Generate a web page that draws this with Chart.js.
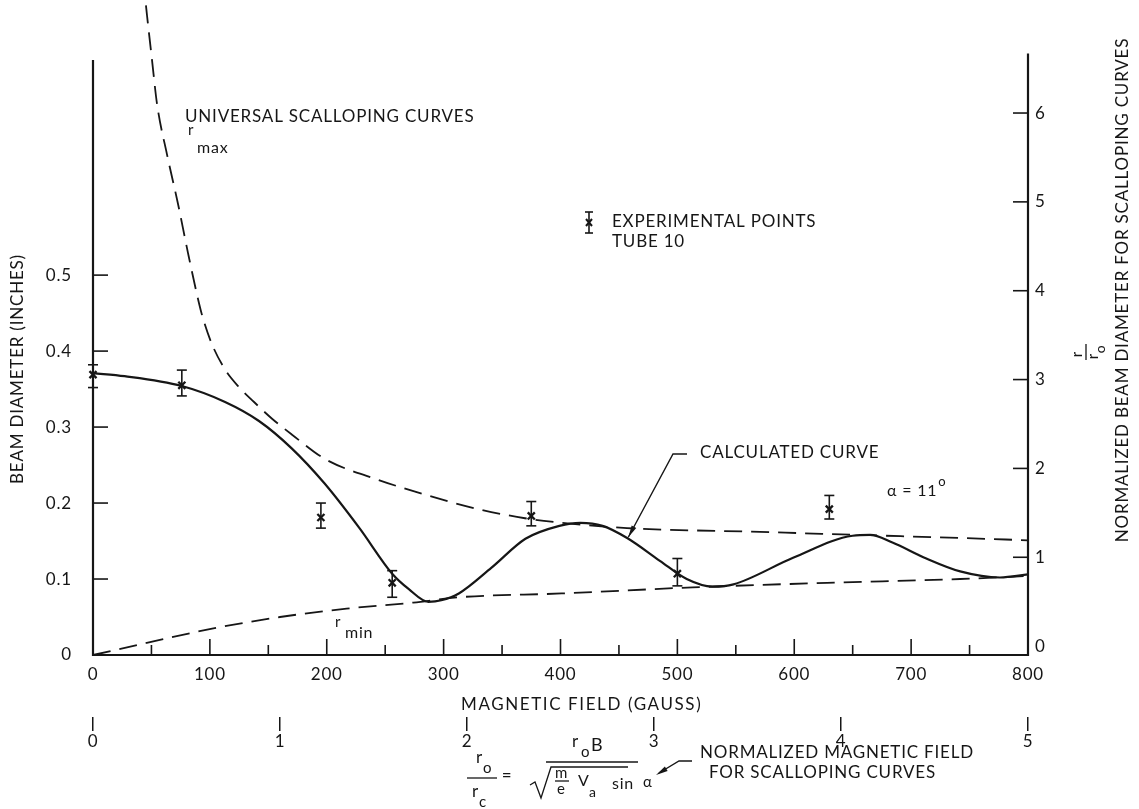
<!DOCTYPE html>
<html>
<head>
<meta charset="utf-8">
<title>Beam diameter vs magnetic field</title>
<script src="https://cdn.jsdelivr.net/npm/chart.js@4.4.1/dist/chart.umd.min.js"></script>
<style>
  html, body { margin: 0; padding: 0; background: #ffffff; }
  #wrap { width: 1139px; height: 809px; }
</style>
</head>
<body>
<div id="wrap"><canvas id="chart" width="1139" height="809"></canvas></div>
<script>
// Calculated beam diameter (inches) against magnetic field (gauss)
const calcField = [0, 27, 76, 113, 142, 170, 198, 228, 256, 270, 287, 298, 313, 341, 370, 399, 417, 436, 457, 485, 508, 530, 548, 599, 650, 665, 684, 713, 742, 776, 800];
const calcDiameter = [0.371, 0.367, 0.354, 0.333, 0.308, 0.272, 0.226, 0.167, 0.107, 0.087, 0.070, 0.072, 0.081, 0.115, 0.153, 0.170, 0.174, 0.170, 0.154, 0.124, 0.100, 0.090, 0.093, 0.128, 0.157, 0.158, 0.148, 0.127, 0.110, 0.102, 0.106];

// Universal scalloping envelope: maximum radius
const rMaxField = [45.3, 46.2, 50.5, 54.8, 63.3, 72.7, 81.3, 90.7, 94.1, 101.8, 112.9, 124.1, 137.8, 153.2, 170.3, 198.5, 241.3, 284.1, 326.8, 369.6, 401.3, 456.9, 570.7, 656.3, 741.8, 800];
const rMaxDiameter = [0.855, 0.842, 0.783, 0.725, 0.659, 0.594, 0.529, 0.463, 0.443, 0.409, 0.376, 0.354, 0.333, 0.311, 0.290, 0.258, 0.232, 0.211, 0.193, 0.180, 0.174, 0.167, 0.162, 0.158, 0.154, 0.151];

// Universal scalloping envelope: minimum radius
const rMinField = [0, 46, 103, 160, 217, 274, 313, 401, 513, 628, 742, 800];
const rMinDiameter = [0, 0.016, 0.035, 0.050, 0.061, 0.069, 0.076, 0.081, 0.089, 0.095, 0.100, 0.104];

// Experimental points, tube 10, with error bar limits
const expField = [0, 76, 195, 256, 375, 500, 630];
const expDiameter = [0.369, 0.355, 0.181, 0.095, 0.183, 0.107, 0.192];
const expLow = [0.352, 0.341, 0.167, 0.076, 0.170, 0.091, 0.179];
const expHigh = [0.382, 0.375, 0.200, 0.111, 0.202, 0.127, 0.210];

// Tick values
const diameterTicks = [0, 0.1, 0.2, 0.3, 0.4, 0.5];
const normDiameterTicks = [0, 1, 2, 3, 4, 5, 6];
const fieldTicks = [0, 50, 100, 150, 200, 250, 300, 350, 400, 450, 500, 550, 600, 650, 700, 750, 800];
const normFieldTicks = [0, 1, 2, 3, 4, 5];

const INK = '#161616';
const FAMILY = 'Lato, "DejaVu Sans", sans-serif';
const SPACING = '0.8px';
const fnt = (size) => `400 ${size}px ${FAMILY}`;

// Axis extents and value ranges
const FIELD_MAX = 800, NORM_FIELD_MAX = 5;
const DIAM_MAX = 0.8525, LEFT_AXIS_TOP = 0.783;
const NORM_MIN = -0.1, NORM_MAX = 7.19, RIGHT_AXIS_TOP = 6.67;

const toXY = (xs, ys) => xs.map((x, i) => ({ x, y: ys[i] }));

function seg(ctx, x1, y1, x2, y2) {
  ctx.beginPath(); ctx.moveTo(x1, y1); ctx.lineTo(x2, y2); ctx.stroke();
}

function text(ctx, str, x, y, size, align) {
  ctx.font = fnt(size);
  ctx.textAlign = align || 'left';
  ctx.textBaseline = 'middle';
  ctx.fillText(str, x, y);
  return x + ctx.measureText(str).width;
}

function arrowHead(ctx, fx, fy, tx, ty) {
  const ang = Math.atan2(ty - fy, tx - fx);
  const len = 12, half = 2.6;
  ctx.beginPath();
  ctx.moveTo(tx, ty);
  ctx.lineTo(tx - len * Math.cos(ang) + half * Math.sin(ang), ty - len * Math.sin(ang) - half * Math.cos(ang));
  ctx.lineTo(tx - len * Math.cos(ang) - half * Math.sin(ang), ty - len * Math.sin(ang) + half * Math.cos(ang));
  ctx.closePath();
  ctx.fill();
}

// Frame lines and inward tick marks
const frame = {
  id: 'frame',
  beforeDatasetsDraw(chart) {
    const { ctx, chartArea: a, scales: { x, y, y2 } } = chart;
    const yb = y.getPixelForValue(0);
    ctx.save();
    ctx.strokeStyle = INK;
    ctx.lineWidth = 2.2;
    ctx.beginPath();
    ctx.moveTo(a.left, y.getPixelForValue(LEFT_AXIS_TOP));
    ctx.lineTo(a.left, yb);
    ctx.lineTo(a.right, yb);
    ctx.lineTo(a.right, y2.getPixelForValue(RIGHT_AXIS_TOP));
    ctx.stroke();
    ctx.lineWidth = 1.6;
    y.ticks.forEach(t => {
      if (t.value === 0) return;
      const py = y.getPixelForValue(t.value);
      seg(ctx, a.left, py, a.left + 15, py);
    });
    y2.ticks.forEach(t => {
      if (t.value === 0) return;
      const py = y2.getPixelForValue(t.value);
      seg(ctx, a.right - 15, py, a.right, py);
    });
    x.ticks.forEach(t => {
      if (t.value === 0 || t.value === FIELD_MAX) return;
      const px = x.getPixelForValue(t.value);
      const len = t.value % 100 === 0 ? 16 : 10;
      seg(ctx, px, yb - len, px, yb);
    });
    ctx.restore();
  }
};

// Error bars for the experimental points
const errorBars = {
  id: 'errorBars',
  afterDatasetsDraw(chart) {
    const { ctx, scales: { x, y } } = chart;
    ctx.save();
    ctx.strokeStyle = INK;
    ctx.lineWidth = 1.6;
    expField.forEach((b, i) => {
      const px = x.getPixelForValue(b);
      const top = y.getPixelForValue(expHigh[i]);
      const bot = y.getPixelForValue(expLow[i]);
      seg(ctx, px, top, px, bot);
      seg(ctx, px - 5, top, px + 5, top);
      seg(ctx, px - 5, bot, px + 5, bot);
    });
    ctx.restore();
  }
};

// Titles, labels and the normalized-field formula
const notes = {
  id: 'notes',
  afterDraw(chart) {
    const { ctx, scales: { x, y } } = chart;
    ctx.save();
    ctx.fillStyle = INK;
    ctx.strokeStyle = INK;
    ctx.letterSpacing = SPACING;

    // axis titles
    ctx.save();
    ctx.translate(18, 369);
    ctx.rotate(-Math.PI / 2);
    text(ctx, 'BEAM DIAMETER (INCHES)', 0, 0, 17, 'center');
    ctx.restore();

    ctx.save();
    ctx.translate(1123, 290);
    ctx.rotate(-Math.PI / 2);
    text(ctx, 'NORMALIZED BEAM DIAMETER FOR SCALLOPING CURVES', 0, 0, 17, 'center');
    ctx.restore();

    // r / r_o beside the right axis
    ctx.save();
    ctx.translate(1086, 352);
    ctx.rotate(-Math.PI / 2);
    text(ctx, 'r', -2, -9, 15, 'center');
    ctx.lineWidth = 1.3;
    seg(ctx, -8, 0, 8, 0);
    text(ctx, 'r', -4, 7, 15, 'center');
    text(ctx, 'o', 3, 14, 14, 'center');
    ctx.restore();

    ctx.save();
    ctx.letterSpacing = '1.6px';
    text(ctx, 'MAGNETIC FIELD (GAUSS)', 461, 705, 17);
    ctx.restore();

    // curve labels
    text(ctx, 'UNIVERSAL SCALLOPING CURVES', 185, 117, 17);
    text(ctx, 'r', 188, 130, 15);
    text(ctx, 'max', 197, 148, 16);
    text(ctx, 'r', 335, 622, 15);
    text(ctx, 'min', 345, 633, 16);

    // experimental point key
    ctx.lineWidth = 1.6;
    seg(ctx, 589, 212, 589, 233);
    seg(ctx, 585, 212, 593, 212);
    seg(ctx, 585, 233, 593, 233);
    ctx.lineWidth = 2;
    seg(ctx, 586, 219, 592, 226);
    seg(ctx, 592, 219, 586, 226);
    text(ctx, 'EXPERIMENTAL POINTS', 612, 222, 17);
    text(ctx, 'TUBE 10', 612, 242, 17);

    // calculated curve label with leader arrow to the curve
    text(ctx, 'CALCULATED CURVE', 700, 453, 17);
    const tipX = x.getPixelForValue(458), tipY = y.getPixelForValue(0.155);
    ctx.lineWidth = 1.4;
    ctx.beginPath();
    ctx.moveTo(687, 454); ctx.lineTo(673, 454); ctx.lineTo(tipX, tipY);
    ctx.stroke();
    arrowHead(ctx, 673, 454, tipX, tipY);

    // pitch angle
    const e = text(ctx, '\u03B1 = 11', 887, 491, 16);
    text(ctx, 'o', e + 1, 482, 13);

    // normalized field: r_o / r_c = r_o B / sqrt(m/e V_a) sin alpha
    ctx.lineWidth = 1.3;
    text(ctx, 'r', 476, 758, 17);
    text(ctx, 'o', 483, 768, 15);
    seg(ctx, 467, 778, 497, 778);
    text(ctx, 'r', 472, 792, 17);
    text(ctx, 'c', 479, 802, 15);
    text(ctx, '=', 507, 776, 17, 'center');

    text(ctx, 'r', 572, 742, 17);
    text(ctx, 'o', 581, 752, 15);
    text(ctx, 'B', 591, 745, 18);
    seg(ctx, 546, 762, 638, 762);
    ctx.beginPath();
    ctx.moveTo(530, 785); ctx.lineTo(535, 782); ctx.lineTo(541, 798);
    ctx.lineTo(551, 767); ctx.lineTo(628, 767);
    ctx.stroke();
    text(ctx, 'm', 555, 773, 15);
    seg(ctx, 555, 781, 569, 781);
    text(ctx, 'e', 557, 789, 15);
    text(ctx, 'V', 578, 781, 16);
    text(ctx, 'a', 589, 792, 14);
    text(ctx, 'sin', 612, 784, 16);
    text(ctx, '\u03B1', 643, 782, 15);

    // leader from the field note to the formula
    ctx.lineWidth = 1.4;
    ctx.beginPath();
    ctx.moveTo(692, 761); ctx.lineTo(679, 761); ctx.lineTo(659, 773);
    ctx.stroke();
    arrowHead(ctx, 679, 761, 656, 775);
    text(ctx, 'NORMALIZED MAGNETIC FIELD', 700, 753, 17);
    text(ctx, 'FOR SCALLOPING CURVES', 709, 773, 17);

    ctx.restore();
  }
};

Chart.defaults.font.family = FAMILY;
Chart.defaults.color = INK;

const spacedText = {
  id: 'spacedText',
  beforeDraw(chart) { chart.ctx.letterSpacing = SPACING; }
};

// Fixed axis box sizes; tick-label overhang is not allowed to shrink the plot
const fixBox = (w, h) => s => {
  if (w !== null) s.width = w;
  if (h !== null) s.height = h;
  s.paddingTop = 0; s.paddingBottom = 0; s.paddingLeft = 0; s.paddingRight = 0;
};

new Chart(document.getElementById('chart'), {
  type: 'line',
  data: {
    datasets: [
      {
        label: 'Calculated curve',
        data: toXY(calcField, calcDiameter),
        borderColor: INK, borderWidth: 2.2,
        pointRadius: 0, cubicInterpolationMode: 'monotone',
        clip: false, xAxisID: 'x', yAxisID: 'y'
      },
      {
        label: 'r max',
        data: toXY(rMaxField, rMaxDiameter),
        borderColor: INK, borderWidth: 1.8, borderDash: [18, 9],
        pointRadius: 0, cubicInterpolationMode: 'monotone',
        clip: false, xAxisID: 'x', yAxisID: 'y'
      },
      {
        label: 'r min',
        data: toXY(rMinField, rMinDiameter),
        borderColor: INK, borderWidth: 1.8, borderDash: [18, 9],
        pointRadius: 0, cubicInterpolationMode: 'monotone',
        clip: false, xAxisID: 'x', yAxisID: 'y'
      },
      {
        label: 'Experimental points, tube 10',
        data: toXY(expField, expDiameter),
        showLine: false,
        pointStyle: 'crossRot', pointRadius: 5,
        pointBorderColor: INK, pointBorderWidth: 2.3,
        borderColor: INK,
        clip: false, xAxisID: 'x', yAxisID: 'y'
      }
    ]
  },
  options: {
    responsive: false,
    devicePixelRatio: 1,
    animation: false,
    layout: { padding: { top: 2, left: 0, right: 0, bottom: 48 } },
    plugins: { legend: { display: false }, tooltip: { enabled: false } },
    scales: {
      x: {
        type: 'linear', position: 'bottom', weight: 0,
        min: 0, max: FIELD_MAX,
        afterBuildTicks: s => { s.ticks = fieldTicks.map(v => ({ value: v })); },
        afterFit: fixBox(null, 62),
        grid: { display: false, drawTicks: false },
        border: { display: false },
        ticks: {
          autoSkip: false, maxRotation: 0, minRotation: 0, padding: 9,
          font: { size: 17 }, color: INK,
          callback: v => (v % 100 === 0 ? String(v) : '')
        }
      },
      x2: {
        type: 'linear', position: 'bottom', weight: 1,
        min: 0, max: NORM_FIELD_MAX,
        afterBuildTicks: s => { s.ticks = normFieldTicks.map(v => ({ value: v })); },
        afterFit: fixBox(null, 44),
        grid: { display: true, drawOnChartArea: false, drawTicks: true, tickLength: 14, color: INK, lineWidth: 1.5 },
        border: { display: false },
        ticks: { autoSkip: false, maxRotation: 0, minRotation: 0, padding: 0, font: { size: 17 }, color: INK }
      },
      y: {
        type: 'linear', position: 'left',
        min: 0, max: DIAM_MAX,
        afterBuildTicks: s => { s.ticks = diameterTicks.map(v => ({ value: v })); },
        afterFit: fixBox(93, null),
        grid: { display: false, drawTicks: false },
        border: { display: false },
        ticks: {
          padding: 21, font: { size: 17 }, color: INK,
          callback: v => (v === 0 ? '0' : v.toFixed(1))
        }
      },
      y2: {
        type: 'linear', position: 'right',
        min: NORM_MIN, max: NORM_MAX,
        afterBuildTicks: s => { s.ticks = normDiameterTicks.map(v => ({ value: v })); },
        afterFit: fixBox(111, null),
        grid: { display: false, drawTicks: false },
        border: { display: false },
        ticks: { padding: 7, font: { size: 17 }, color: INK, callback: v => String(v) }
      }
    }
  },
  plugins: [spacedText, frame, errorBars, notes]
});
</script>
</body>
</html>
